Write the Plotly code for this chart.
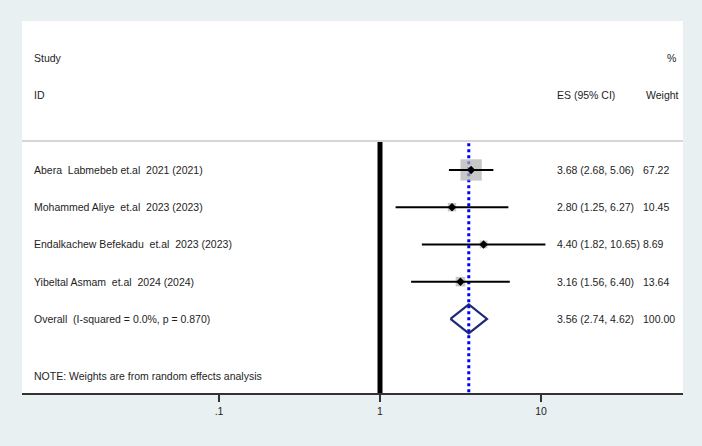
import plotly.graph_objects as go
import math

studies = ["Abera  Labmebeb et.al  2021 (2021)",
           "Mohammed Aliye  et.al  2023 (2023)",
           "Endalkachew Befekadu  et.al  2023 (2023)",
           "Yibeltal Asmam  et.al  2024 (2024)"]
es = [3.68, 2.80, 4.40, 3.16]
lo = [2.68, 1.25, 1.82, 1.56]
hi = [5.06, 6.27, 10.65, 6.40]
weights = [67.22, 10.45, 8.69, 13.64]

overall_label = "Overall  (I-squared = 0.0%, p = 0.870)"
overall_es, overall_lo, overall_hi = 3.56, 2.74, 4.62
overall_weight = 100.00

note = "NOTE: Weights are from random effects analysis"
tick_vals = [0.1, 1, 10]
tick_text = [".1", "1", "10"]

FONT = "Liberation Sans, Arial, sans-serif"
FS = 10.5
TXT = "#1e1e1e"

def nb(s):
    return s.replace("  ", " \u00a0")

rows = [3 + i for i in range(len(studies))]
overall_row = rows[-1] + 1
Y_TOP, Y_BOT = -1.0, 8.99

fig = go.Figure()

# null line at 1
fig.add_trace(go.Scatter(x=[1, 1], y=[2.25, Y_BOT], mode="lines",
                         line=dict(color="black", width=5), hoverinfo="skip", showlegend=False))
# overall effect dotted line
fig.add_trace(go.Scatter(x=[overall_es, overall_es], y=[2.28, Y_BOT], mode="lines",
                         line=dict(color="#0000ff", width=3, dash="dot"), hoverinfo="skip", showlegend=False))

# weight boxes
sizes = [2.6 * math.sqrt(w) for w in weights]
fig.add_trace(go.Scatter(x=es, y=rows, mode="markers",
                         marker=dict(symbol="square", size=sizes, color="#b0b0b0", line=dict(width=0)),
                         hoverinfo="skip", showlegend=False))
# CI lines
for e, l, h, r in zip(es, lo, hi, rows):
    fig.add_trace(go.Scatter(x=[l, h], y=[r, r], mode="lines",
                             line=dict(color="black", width=2), hoverinfo="skip", showlegend=False))
# point estimates
fig.add_trace(go.Scatter(x=es, y=rows, mode="markers",
                         marker=dict(symbol="diamond", size=6.5, color="black"),
                         hoverinfo="skip", showlegend=False))

# overall diamond
hh = 0.39
fig.add_trace(go.Scatter(x=[overall_lo, overall_es, overall_hi, overall_es, overall_lo],
                         y=[overall_row, overall_row - hh, overall_row, overall_row + hh, overall_row],
                         mode="lines", line=dict(color="#1c2a78", width=2.2),
                         hoverinfo="skip", showlegend=False))

ann = []
def add_text(xp, y, text):
    ann.append(dict(x=xp, y=y, xref="paper", yref="y", text=text, showarrow=False,
                    xanchor="left", yanchor="middle",
                    font=dict(family=FONT, size=FS, color=TXT)))

X_LABEL = 0.0151
X_ES = (555 - 22) / 661
X_W = (641 - 22) / 661
add_text(X_LABEL, 0, "Study")
add_text(X_LABEL, 1, "ID")
add_text((665 - 22) / 661, 0, "%")
add_text((555 - 22) / 661, 1, "ES (95% CI)")
add_text((644 - 22) / 661, 1, "Weight")
for s, e, l, h, w, r in zip(studies, es, lo, hi, weights, rows):
    add_text(X_LABEL, r, nb(s))
    add_text(X_ES, r, f"{e:.2f} ({l:.2f}, {h:.2f})")
    add_text(X_W, r, f"{w:.2f}")
add_text(X_LABEL, overall_row, nb(overall_label))
add_text(X_ES, overall_row, f"{overall_es:.2f} ({overall_lo:.2f}, {overall_hi:.2f})")
add_text(X_W, overall_row, f"{overall_weight:.2f}")
add_text(X_LABEL, 8.53, note)

fig.update_layout(
    width=702, height=446,
    margin=dict(l=22, r=19, t=21, b=53),
    paper_bgcolor="#e9f0f2",
    plot_bgcolor="white",
    annotations=ann,
    shapes=[dict(type="line", xref="paper", yref="y", x0=0, x1=1, y0=2.22, y1=2.22,
                 line=dict(color="#c8c8c8", width=1.5))],
    xaxis=dict(type="log", range=[-2.2236, 1.882], tickvals=tick_vals, ticktext=tick_text,
               showgrid=False, zeroline=False, showline=True, linecolor="#333333", linewidth=2,
               ticks="outside", ticklen=7, tickwidth=1.5, tickcolor="#333333",
               tickfont=dict(family=FONT, size=FS, color=TXT)),
    yaxis=dict(range=[Y_BOT, Y_TOP], showgrid=False, zeroline=False, showticklabels=False,
               showline=False),
)

fig.write_html("out.html")
